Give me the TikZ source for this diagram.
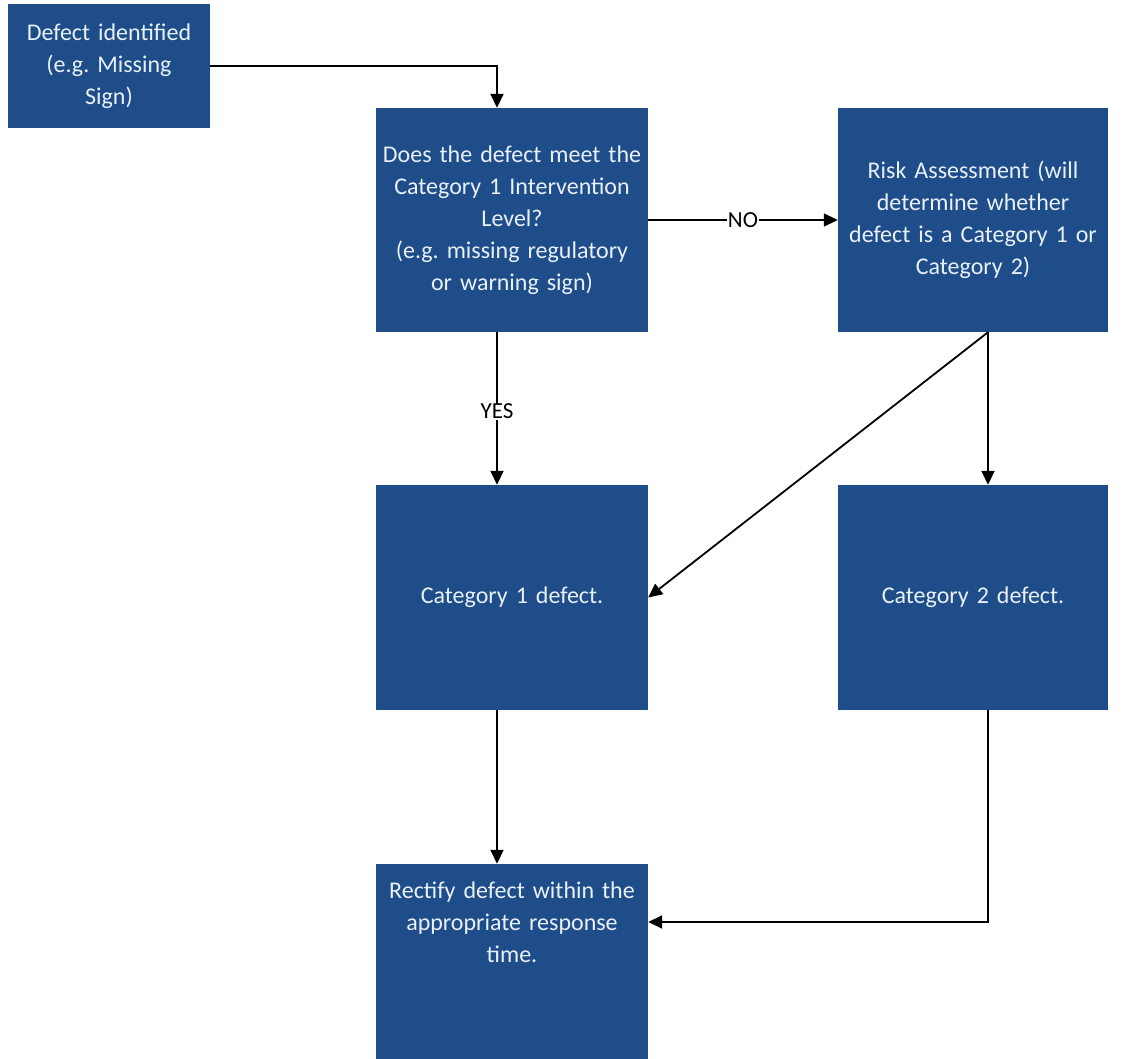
\documentclass[tikz,border=0pt]{standalone}
\usepackage{fontspec}
\setmainfont{Carlito}
\usetikzlibrary{arrows.meta}
\definecolor{boxblue}{RGB}{30,77,138}
\definecolor{boxtext}{RGB}{232,240,248}
\frenchspacing
\begin{document}
\begin{tikzpicture}[x=1pt,y=-1pt,
  box/.style={fill=boxblue, text=boxtext, align=center, inner sep=0pt,
    font=\fontsize{24}{32}\selectfont},
  boxtxt/.style={text=boxtext, align=center, inner sep=0pt,
    font=\fontsize{24}{32}\selectfont},
  conn/.style={line width=1.8pt, -{Triangle[length=14pt,width=13pt]}},
  lbl/.style={fill=white, text=black, font=\fontsize{23}{26}\selectfont, inner sep=0.5pt}]
\useasboundingbox (0,0) rectangle (1134,1059);
\node[box, minimum width=202pt, minimum height=124pt, text width=195pt] (A) at (109,66)
  {Defect identified\\(e.g. Missing\\Sign)};
\node[box, minimum width=272pt, minimum height=224pt, text width=265pt] (B) at (512,220)
  {Does the defect meet the\\Category 1 Intervention\\Level?\\(e.g. missing regulatory\\or warning sign)};
\node[box, minimum width=270pt, minimum height=224pt, text width=262pt] (C) at (973,220)
  {Risk Assessment (will\\determine whether\\defect is a Category 1 or\\Category 2)};
\node[box, minimum width=272pt, minimum height=225pt, text width=265pt] (D) at (512,597.5)
  {Category 1 defect.};
\node[box, minimum width=270pt, minimum height=225pt, text width=262pt] (E) at (973,597.5)
  {Category 2 defect.};
\node[box, minimum width=272pt, minimum height=195pt] (F) at (512,961.5) {};
\node[boxtxt, text width=265pt] (Ft) at (512,922)
  {Rectify defect within the\\appropriate response\\time.};
\draw[conn] (A.east) -| ([xshift=-15pt]B.north);
\draw[conn] (B.east) -- node[lbl] {NO} (C.west);
\draw[conn] ([xshift=-15pt]B.south) -- node[lbl, pos=0.52] {YES} ([xshift=-15pt]D.north);
\draw[conn] ([xshift=15pt]C.south) -- ([xshift=15pt]E.north);
\draw[conn] ([xshift=15pt]C.south) -- (D.east);
\draw[conn] ([xshift=-15pt]D.south) -- ([xshift=-15pt]F.north);
\draw[conn] ([xshift=15pt]E.south) |- (F.east |- Ft.center);
\end{tikzpicture}
\end{document}
